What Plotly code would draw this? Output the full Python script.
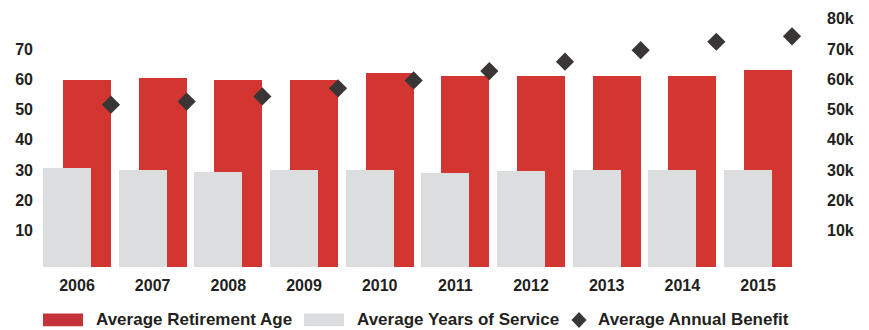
import plotly.graph_objects as go

years = [2006, 2007, 2008, 2009, 2010, 2011, 2012, 2013, 2014, 2015]
retirement_age = [59.7, 60.3, 59.7, 59.7, 62.0, 61.0, 61.0, 61.0, 61.0, 62.9]
years_of_service = [30.6, 29.9, 29.3, 29.9, 29.9, 29.0, 29.6, 29.9, 29.9, 29.9]
annual_benefit = [51600, 52600, 54300, 57000, 59600, 62700, 65800, 69600, 72400, 74200]

left_ticks = [10, 20, 30, 40, 50, 60, 70]
right_ticks = [10000, 20000, 30000, 40000, 50000, 60000, 70000, 80000]
right_tick_text = ["10k", "20k", "30k", "40k", "50k", "60k", "70k", "80k"]

RED = "#D33631"
RED_LEG = "#C6323A"
GRAY = "#DCDDDF"
DARK = "#3A3636"
TEXT = "#231F20"
FONT = "Liberation Sans, Arial, sans-serif"

W, H = 869, 330
ML, MR, MT, MB = 38, 47, 10, 63
Y_LO, Y_HI = -2.09, 81.9
X_LO, X_HI = 2005.4846, 2015.8454
BAR_W = 0.634
GRAY_OFF = -0.449
RED_OFF = -0.185
DIAMOND_SHIFT = 0.449

fig = go.Figure()
fig.add_trace(go.Bar(
    x=years, y=[v - Y_LO for v in retirement_age], base=Y_LO,
    width=BAR_W, offset=RED_OFF, marker=dict(color=RED, line=dict(width=0)),
    name="Average Retirement Age", showlegend=False,
))
fig.add_trace(go.Bar(
    x=years, y=[v - Y_LO for v in years_of_service], base=Y_LO,
    width=BAR_W, offset=GRAY_OFF, marker=dict(color=GRAY, line=dict(width=0)),
    name="Average Years of Service", showlegend=False,
))
fig.add_trace(go.Scatter(
    x=[y + DIAMOND_SHIFT for y in years], y=annual_benefit, yaxis="y2",
    mode="markers", marker=dict(symbol="diamond", size=14, color=DARK),
    name="Average Annual Benefit", showlegend=False, cliponaxis=False,
))

pw = W - ML - MR
ph = H - MT - MB


def px(x):
    return (x - ML) / pw


def py(y):
    return (H - MB - y) / ph


shapes = [
    dict(type="rect", xref="paper", yref="paper", x0=px(43), x1=px(83), y0=py(327), y1=py(314),
         fillcolor=RED_LEG, line=dict(width=0)),
    dict(type="rect", xref="paper", yref="paper", x0=px(304), x1=px(344), y0=py(327), y1=py(314),
         fillcolor=GRAY, line=dict(width=0)),
    dict(type="path", xref="paper", yref="paper", xsizemode="pixel", ysizemode="pixel",
         xanchor=px(579), yanchor=py(320.5),
         path="M 0 8 L 7.5 0 L 0 -8 L -7.5 0 Z", fillcolor=DARK, line=dict(width=0)),
]
annotations = [
    dict(text="Average Retirement Age", x=px(94), y=py(320.5)),
    dict(text="Average Years of Service", x=px(355), y=py(320.5)),
    dict(text="Average Annual Benefit", x=px(596), y=py(320.5)),
]
for a in annotations:
    a.update(xref="paper", yref="paper", xanchor="left", yanchor="middle", showarrow=False,
             font=dict(family=FONT, size=17, color=TEXT, weight="bold"))

fig.update_layout(
    width=W, height=H,
    margin=dict(l=ML, r=MR, t=MT, b=MB),
    paper_bgcolor="white", plot_bgcolor="white",
    barmode="overlay", bargap=0,
    showlegend=False,
    font=dict(family=FONT, color=TEXT),
    xaxis=dict(range=[X_LO, X_HI], tickvals=years, ticktext=[str(y) for y in years],
               showgrid=False, zeroline=False, showline=False, ticks="",
               tickfont=dict(family=FONT, size=16, color=TEXT, weight="bold"),
               ticklabelstandoff=7),
    yaxis=dict(range=[Y_LO, Y_HI], tickvals=left_ticks, showgrid=False, zeroline=False,
               showline=False, ticks="", ticklabelstandoff=4,
               tickfont=dict(family=FONT, size=16, color=TEXT, weight="bold")),
    yaxis2=dict(range=[Y_LO * 1000, Y_HI * 1000], tickvals=right_ticks, ticktext=right_tick_text,
                overlaying="y", side="right", showgrid=False, zeroline=False, showline=False,
                ticks="", ticklabelstandoff=4,
                tickfont=dict(family=FONT, size=16, color=TEXT, weight="bold")),
    shapes=shapes, annotations=annotations,
)

fig.write_html("out.html")
